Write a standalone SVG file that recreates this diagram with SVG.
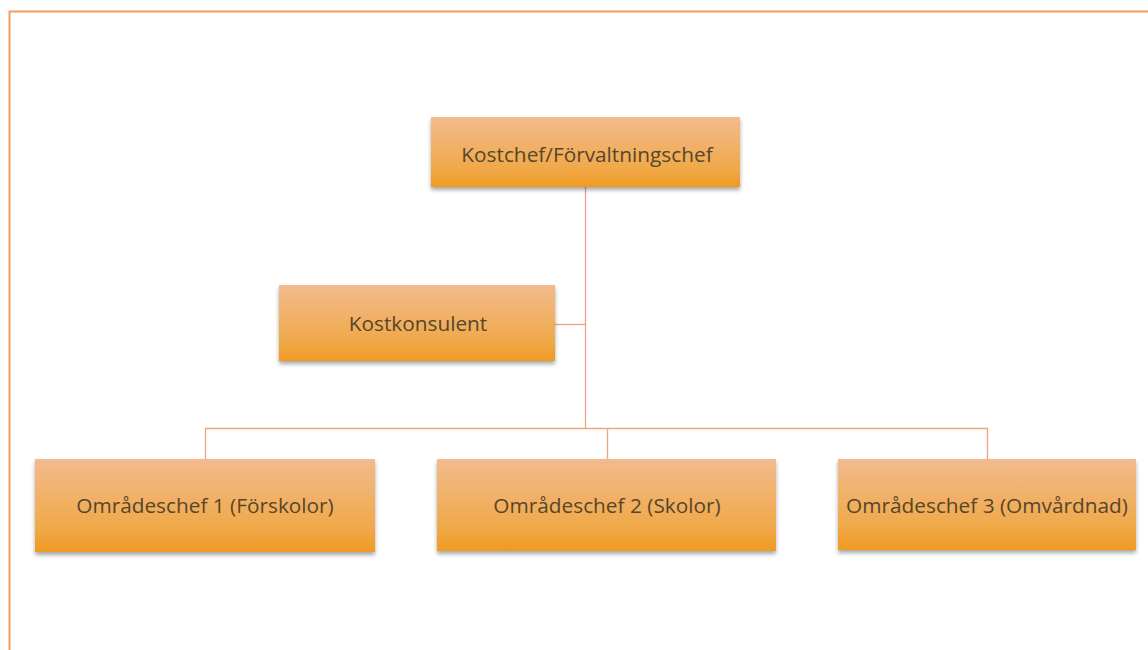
<svg xmlns="http://www.w3.org/2000/svg" width="1148" height="650" viewBox="0 0 1148 650">
<defs>
<linearGradient id="g" x1="0" y1="0" x2="0" y2="1">
<stop offset="0" stop-color="#f2bb8e"/>
<stop offset="0.75" stop-color="#f0a848"/>
<stop offset="1" stop-color="#f09a22"/>
</linearGradient>
<filter id="sh" x="-5%" y="-10%" width="110%" height="130%">
<feGaussianBlur in="SourceAlpha" stdDeviation="2"/>
<feOffset dx="0" dy="3"/>
<feComponentTransfer><feFuncA type="linear" slope="0.35"/></feComponentTransfer>
<feMerge><feMergeNode/><feMergeNode in="SourceGraphic"/></feMerge>
</filter>
</defs>
<style>
.box{fill:url(#g);filter:url(#sh)}
.t{font-family:"Open Sans","Liberation Sans",sans-serif;font-size:20.8px;fill:#56462a;text-anchor:middle}
.c{stroke:#f2a47a;stroke-width:1.3;fill:none}
</style>
<rect width="1148" height="650" fill="#ffffff"/>
<path d="M9.5 650 V11.5 H1148" fill="none" stroke="#f79a55" stroke-width="2"/>
<g id="connectors">
<path class="c" d="M585.5 187 V428.5"/>
<path class="c" d="M555 324.5 H585.5"/>
<path class="c" d="M205.5 459 V428.5 H987.5 V459"/>
<path class="c" d="M607.5 428.5 V459"/>
</g>
<g id="n1"><rect class="box" x="431" y="117" width="309" height="70"/><text class="t" x="587" y="162">Kostchef/Förvaltningschef</text></g>
<g id="n2"><rect class="box" x="279" y="285" width="276" height="76"/><text class="t" x="418" y="331">Kostkonsulent</text></g>
<g id="n3"><rect class="box" x="35" y="459" width="340" height="93"/><text class="t" x="205" y="513">Områdeschef 1 (Förskolor)</text></g>
<g id="n4"><rect class="box" x="437" y="459" width="339" height="92"/><text class="t" x="607" y="513">Områdeschef 2 (Skolor)</text></g>
<g id="n5"><rect class="box" x="838" y="459" width="298" height="91"/><text class="t" x="987" y="513">Områdeschef 3 (Omvårdnad)</text></g>
</svg>
